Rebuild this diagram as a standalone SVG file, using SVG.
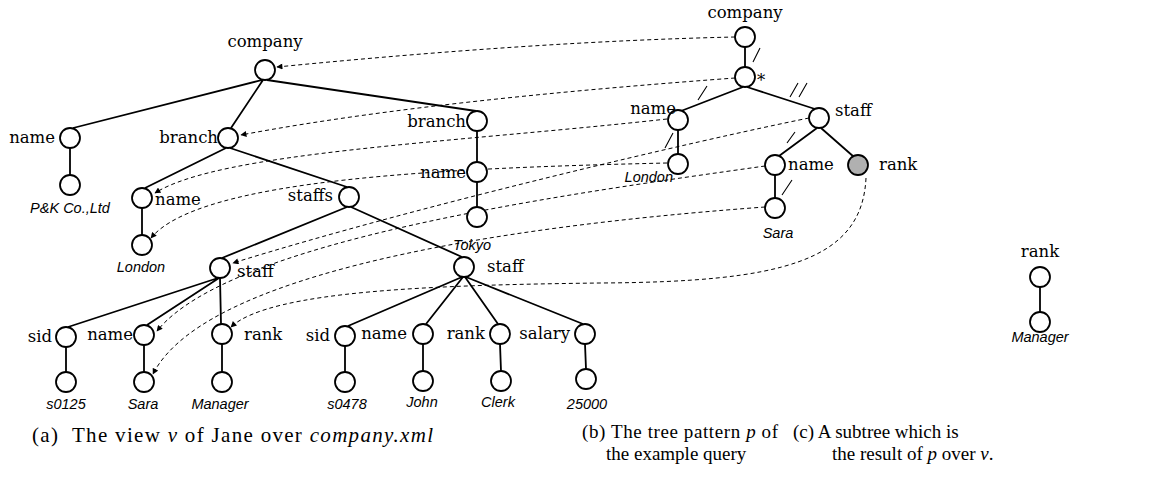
<svg xmlns="http://www.w3.org/2000/svg" width="1163" height="483" viewBox="0 0 1163 483">
<style>
.n{fill:#fff;stroke:#000;stroke-width:1.8}
.g{fill:#b0b0b0;stroke:#000;stroke-width:1.8}
.e{stroke:#000;stroke-width:1.8;fill:none}
.s{stroke:#000;stroke-width:1.1;fill:none}
.d{stroke:#000;stroke-width:1;fill:none;stroke-dasharray:4 3}
.l{font-family:"DejaVu Serif","Liberation Serif",serif;font-size:16.5px;fill:#000}
.v{font-family:"Liberation Sans",Arial,sans-serif;font-style:italic;font-size:14.5px;fill:#000}
.c{font-family:"Liberation Serif","Times New Roman",serif;font-size:19px;fill:#000}
.ca{font-size:21px}
.i{font-style:italic}
</style>
<defs>
<marker id="ah" viewBox="0 0 10 10" refX="9" refY="5" markerWidth="7" markerHeight="6" markerUnits="userSpaceOnUse" orient="auto">
<path d="M0,0 L10,5 L0,10 z" fill="#000"/>
</marker>
</defs>

<g id="edges-a">
<path class="e" d="M262,80 L73,128 M263,80 L231,128 M267,80 L476,111 M70,148 L70,175 M226,148 L145,188 M230,148 L347,187 M142,208 L142,235 M347,207 L222,258 M351,207 L462,257 M218,278 L68,327 M219,278 L147,325 M220,278 L221,324 M66,347 L66,372 M144,345 L144,372 M222,344 L222,372 M477,131 L477,162 M477,182 L477,207 M462,277 L348,326 M463,277 L426,324 M465,277 L498,324 M466,277 L583,324 M345,346 L345,372 M423,344 L423,371 M500,344 L501,371 M585,344 L586,369"/>
</g>
<g id="edges-b">
<path class="e" d="M745,47 L745,67 M743,87 L681,111 M747,87 L815,109 M678,130 L678,154 M817,128 L779,156 M821,128 L854,157 M775,175 L775,198"/>
<path class="s" d="M753,62 L760,48 M698,100 L707,86 M790,97 L798,83 M799,97 L807,83 M665,148 L673,133 M787,143 L795,132 M782,195 L792,180"/>
</g>
<g id="edges-c">
<path class="e" d="M1040,287 L1040,312"/>
</g>

<g id="connectors">
<path class="d" marker-end="url(#ah)" d="M735,37 C 600,40 450,50 277,67"/>
<path class="d" marker-end="url(#ah)" d="M735,78 C 600,88 400,105 241,135"/>
<path class="d" marker-end="url(#ah)" d="M667,119 C 450,143 220,152 155,193"/>
<path class="d" marker-end="url(#ah)" d="M667,163 C 450,168 200,178 151,238"/>
<path class="d" marker-end="url(#ah)" d="M809,118 C 700,140 420,205 233,263"/>
<path class="d" marker-end="url(#ah)" d="M765,166 C 560,195 230,240 157,331"/>
<path class="d" marker-end="url(#ah)" d="M765,207 C 560,222 210,262 153,374"/>
<path class="d" marker-end="url(#ah)" d="M866,178 C 862,262 780,282 600,283 C 440,285 270,290 231,327"/>
</g>

<g id="a-company"><circle class="n" cx="265" cy="70" r="10"/><text class="l" x="265" y="47" text-anchor="middle">company</text></g>
<g id="a-name1"><circle class="n" cx="70" cy="138" r="10"/><text class="l" x="55" y="143" text-anchor="end">name</text></g>
<g id="a-pk"><circle class="n" cx="70" cy="185" r="10"/><text class="v" x="70" y="213" text-anchor="middle">P&amp;K Co.,Ltd</text></g>
<g id="a-branch1"><circle class="n" cx="228" cy="138" r="10"/><text class="l" x="218" y="143" text-anchor="end">branch</text></g>
<g id="a-name2"><circle class="n" cx="142" cy="198" r="10"/><text class="l" x="155" y="205">name</text></g>
<g id="a-london"><circle class="n" cx="142" cy="245" r="10"/><text class="v" x="141" y="272" text-anchor="middle">London</text></g>
<g id="a-staffs"><circle class="n" cx="349" cy="197" r="10"/><text class="l" x="333" y="201" text-anchor="end">staffs</text></g>
<g id="a-staff1"><circle class="n" cx="220" cy="268" r="10"/><text class="l" x="237" y="277">staff</text></g>
<g id="a-sid1"><circle class="n" cx="66" cy="337" r="10"/><text class="l" x="52" y="342" text-anchor="end">sid</text></g>
<g id="a-s0125"><circle class="n" cx="66" cy="382" r="10"/><text class="v" x="66" y="409" text-anchor="middle">s0125</text></g>
<g id="a-name3"><circle class="n" cx="144" cy="335" r="10"/><text class="l" x="133" y="340" text-anchor="end">name</text></g>
<g id="a-sara"><circle class="n" cx="144" cy="382" r="10"/><text class="v" x="143" y="409" text-anchor="middle">Sara</text></g>
<g id="a-rank1"><circle class="n" cx="222" cy="334" r="10"/><text class="l" x="244" y="340">rank</text></g>
<g id="a-manager"><circle class="n" cx="222" cy="382" r="10"/><text class="v" x="220" y="409" text-anchor="middle">Manager</text></g>
<g id="a-branch2"><circle class="n" cx="477" cy="121" r="10"/><text class="l" x="466" y="127" text-anchor="end">branch</text></g>
<g id="a-name4"><circle class="n" cx="477" cy="172" r="10"/><text class="l" x="466" y="178" text-anchor="end">name</text></g>
<g id="a-tokyo"><circle class="n" cx="477" cy="217" r="10"/><text class="v" x="472" y="250" text-anchor="middle">Tokyo</text></g>
<g id="a-staff2"><circle class="n" cx="464" cy="267" r="10"/><text class="l" x="487" y="272">staff</text></g>
<g id="a-sid2"><circle class="n" cx="345" cy="336" r="10"/><text class="l" x="330" y="341" text-anchor="end">sid</text></g>
<g id="a-s0478"><circle class="n" cx="345" cy="382" r="10"/><text class="v" x="347" y="409" text-anchor="middle">s0478</text></g>
<g id="a-name5"><circle class="n" cx="423" cy="334" r="10"/><text class="l" x="407" y="339" text-anchor="end">name</text></g>
<g id="a-john"><circle class="n" cx="423" cy="381" r="10"/><text class="v" x="422" y="407" text-anchor="middle">John</text></g>
<g id="a-rank2"><circle class="n" cx="500" cy="334" r="10"/><text class="l" x="485" y="339" text-anchor="end">rank</text></g>
<g id="a-clerk"><circle class="n" cx="501" cy="381" r="10"/><text class="v" x="498" y="407" text-anchor="middle">Clerk</text></g>
<g id="a-salary"><circle class="n" cx="585" cy="334" r="10"/><text class="l" x="570" y="339" text-anchor="end">salary</text></g>
<g id="a-25000"><circle class="n" cx="586" cy="379" r="10"/><text class="v" x="587" y="409" text-anchor="middle">25000</text></g>

<g id="b-company"><circle class="n" cx="745" cy="37" r="10"/><text class="l" x="745" y="18" text-anchor="middle">company</text></g>
<g id="b-star"><circle class="n" cx="745" cy="77" r="10"/><text class="l" x="757" y="86">*</text></g>
<g id="b-name"><circle class="n" cx="678" cy="120" r="10"/><text class="l" x="676" y="114" text-anchor="end">name</text></g>
<g id="b-london"><circle class="n" cx="678" cy="164" r="10"/><text class="v" x="673" y="182" text-anchor="end">London</text></g>
<g id="b-staff"><circle class="n" cx="819" cy="118" r="10"/><text class="l" x="835" y="116">staff</text></g>
<g id="b-name2"><circle class="n" cx="775" cy="165" r="10"/><text class="l" x="788" y="170">name</text></g>
<g id="b-rank"><circle class="g" cx="858" cy="165" r="10"/><text class="l" x="879" y="170">rank</text></g>
<g id="b-sara"><circle class="n" cx="775" cy="208" r="10"/><text class="v" x="778" y="238" text-anchor="middle">Sara</text></g>

<g id="c-rank"><circle class="n" cx="1040" cy="277" r="10"/><text class="l" x="1040" y="257" text-anchor="middle">rank</text></g>
<g id="c-manager"><circle class="n" cx="1040" cy="322" r="10"/><text class="v" x="1040" y="342" text-anchor="middle">Manager</text></g>

<g id="captions">
<text class="c ca" x="32" y="442" textLength="401" xml:space="preserve">(a)  The view <tspan class="i">v</tspan> of Jane over <tspan class="i">company.xml</tspan></text>
<text class="c" x="582" y="438" textLength="196">(b) The tree pattern <tspan class="i">p</tspan> of</text>
<text class="c" x="606" y="460">the example query</text>
<text class="c" x="793" y="438">(c) A subtree which is</text>
<text class="c" x="832" y="460">the result of <tspan class="i">p</tspan> over <tspan class="i">v</tspan>.</text>
</g>
</svg>
